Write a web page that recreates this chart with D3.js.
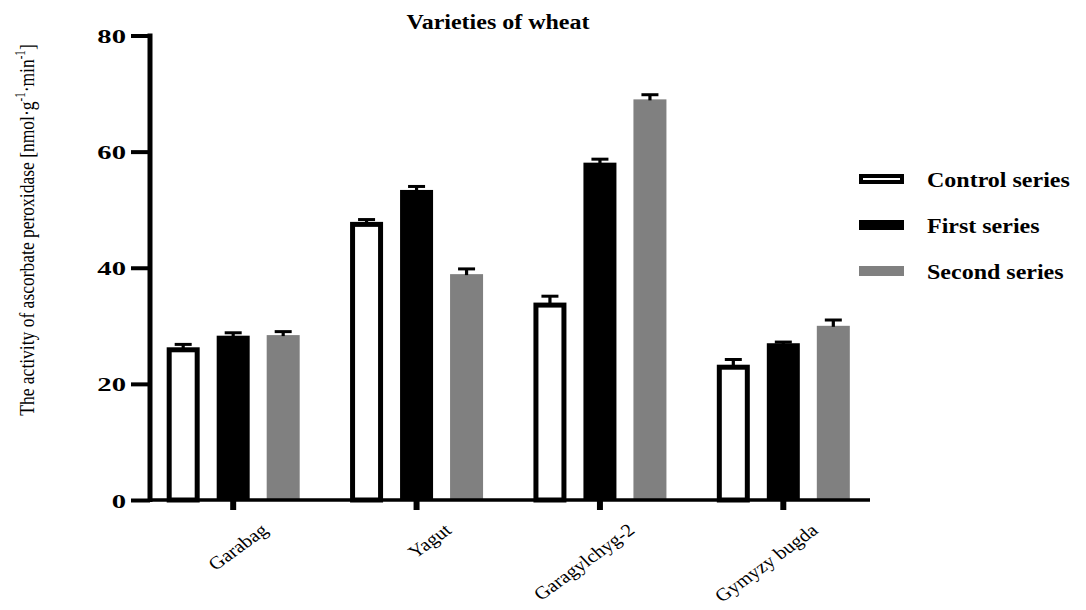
<!DOCTYPE html>
<html>
<head>
<meta charset="utf-8">
<script src="https://cdn.jsdelivr.net/npm/d3@7"></script>
<style>
  html, body { margin: 0; padding: 0; background: #fff; }
  svg { display: block; }
  text { font-family: "Liberation Serif", "Times New Roman", serif; fill: #000; }
</style>
</head>
<body>
<svg id="chart" width="1086" height="610"></svg>
<script>
// ---- data ----
const categories = ["Garabag", "Yagut", "Garagylchyg-2", "Gymyzy bugda"];
const seriesNames = ["Control series", "First series", "Second series"];
const controlValues = [26.3, 47.9, 34.0, 23.3];
const controlErrors = [0.5, 0.4, 1.1, 0.9];
const firstValues = [28.3, 53.4, 58.1, 27.0];
const firstErrors = [0.5, 0.6, 0.6, 0.2];
const secondValues = [28.4, 38.9, 69.0, 30.0];
const secondErrors = [0.6, 0.9, 0.8, 1.0];
const yTicks = [0, 20, 40, 60, 80];
const titleText = "Varieties of wheat";
const yTitleMain = "The activity of ascorbate peroxidase [nmol·g";
const yTitleMid = "·min";

// ---- build table ----
const valuesBySeries = [controlValues, firstValues, secondValues];
const errorsBySeries = [controlErrors, firstErrors, secondErrors];
const table = [];
categories.forEach((c, i) => {
  seriesNames.forEach((s, j) => {
    table.push({ category: c, series: s, value: valuesBySeries[j][i], error: errorsBySeries[j][i] });
  });
});

const svg = d3.select("#chart");

const y = d3.scaleLinear().domain([0, 80]).range([500, 35.5]);
const x0 = d3.scaleBand().domain(categories).range([141.5, 875]).paddingInner(0).paddingOuter(0);
const x1 = d3.scaleBand().domain(seriesNames).range([-66.5, 66.5]).paddingInner(0.34);
const fillOf = d3.scaleOrdinal().domain(seriesNames).range(["#ffffff", "#000000", "#808080"]);
const strokeOf = d3.scaleOrdinal().domain(seriesNames).range(["#000000", "none", "none"]);
const SW = 5;

const cx = d => x0(d.category) + x0.bandwidth() / 2 + x1(d.series);

// bars
const bars = svg.append("g");
bars.selectAll("rect").data(table).enter().append("rect")
  .attr("x", d => strokeOf(d.series) === "none" ? cx(d) : cx(d) + SW / 2)
  .attr("width", d => strokeOf(d.series) === "none" ? x1.bandwidth() : x1.bandwidth() - SW)
  .attr("y", d => strokeOf(d.series) === "none" ? y(d.value) : y(d.value) + SW / 2)
  .attr("height", d => strokeOf(d.series) === "none" ? y(0) - y(d.value) : y(0) - y(d.value) - SW / 2)
  .attr("fill", d => fillOf(d.series))
  .attr("stroke", d => strokeOf(d.series))
  .attr("stroke-width", SW);

// error bars
const eg = svg.append("g").attr("stroke", "#000");
eg.selectAll("line.stem").data(table).enter().append("line")
  .attr("class", "stem")
  .attr("x1", d => cx(d) + x1.bandwidth() / 2)
  .attr("x2", d => cx(d) + x1.bandwidth() / 2)
  .attr("y1", d => y(d.value) + 1)
  .attr("y2", d => y(d.value + d.error))
  .attr("stroke-width", 3.2);
eg.selectAll("line.cap").data(table).enter().append("line")
  .attr("class", "cap")
  .attr("x1", d => cx(d) + x1.bandwidth() / 2 - 8.5)
  .attr("x2", d => cx(d) + x1.bandwidth() / 2 + 8.5)
  .attr("y1", d => y(d.value + d.error))
  .attr("y2", d => y(d.value + d.error))
  .attr("stroke-width", 3);

// y axis
const yAxis = svg.append("g").attr("transform", "translate(150,0)")
  .call(d3.axisLeft(y).tickValues(yTicks).tickSize(19).tickSizeOuter(0).tickPadding(6));
yAxis.select(".domain").attr("stroke", "#000").attr("stroke-width", 5)
  .attr("d", `M0,${y(80) - 2}V${y(0) + 2}`);
yAxis.selectAll(".tick line").attr("stroke", "#000").attr("stroke-width", 4);
yAxis.selectAll(".tick text").remove();
yAxis.selectAll(".tick").append("text")
  .attr("text-anchor", "end")
  .attr("transform", "translate(-24,7) scale(1.55,1)")
  .style("font-size", "18.5px").style("font-weight", "bold")
  .text(d => d);

// x axis
const xAxis = svg.append("g").attr("transform", `translate(0,${y(0)})`)
  .call(d3.axisBottom(x0).tickSize(10).tickSizeOuter(0));
xAxis.select(".domain").remove();
xAxis.append("line").attr("x1", 148).attr("x2", 870).attr("y1", 0).attr("y2", 0)
  .attr("stroke", "#000").attr("stroke-width", 3.5);
xAxis.selectAll(".tick line").attr("stroke", "#000").attr("stroke-width", 6);
xAxis.selectAll(".tick text").remove();
xAxis.selectAll(".tick").append("text")
  .attr("text-anchor", "end")
  .attr("transform", "translate(36,32) scale(1.15,1) rotate(-40)")
  .style("font-size", "18px")
  .text(d => d);

// title
svg.append("text")
  .attr("text-anchor", "middle")
  .attr("transform", "translate(498,29) scale(1.2,1)")
  .style("font-size", "20px").style("font-weight", "bold")
  .text(titleText);

// y title
const yt = svg.append("text")
  .attr("text-anchor", "middle")
  .attr("transform", "translate(34,230) scale(1.25,1) rotate(-90)")
  .style("font-size", "17.5px");
yt.append("tspan").text(yTitleMain);
yt.append("tspan").attr("dy", -7).style("font-size", "11px").text("-1");
yt.append("tspan").attr("dy", 7).text(yTitleMid);
yt.append("tspan").attr("dy", -7).style("font-size", "11px").text("-1");
yt.append("tspan").attr("dy", 7).text("]");

// legend
const legY = d3.scalePoint().domain(seriesNames).range([179, 271]);
const leg = svg.append("g");
const rows = leg.selectAll("g").data(seriesNames).enter().append("g")
  .attr("transform", d => `translate(859,${legY(d)})`);
rows.append("rect")
  .attr("x", d => strokeOf(d) === "none" ? 0 : 2)
  .attr("y", d => strokeOf(d) === "none" ? -5 : -3)
  .attr("width", d => strokeOf(d) === "none" ? 45 : 41)
  .attr("height", d => strokeOf(d) === "none" ? 10 : 6)
  .attr("fill", d => fillOf(d))
  .attr("stroke", d => strokeOf(d))
  .attr("stroke-width", 4);
rows.append("text")
  .attr("transform", "translate(68,8) scale(1.2,1)")
  .style("font-size", "20px").style("font-weight", "bold")
  .text(d => d);
</script>
</body>
</html>
